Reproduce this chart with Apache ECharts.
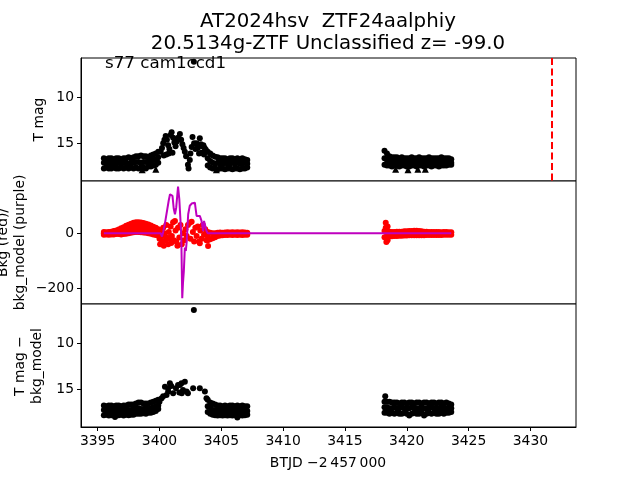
<!DOCTYPE html>
<html>
<head>
<meta charset="utf-8">
<script src="https://cdn.jsdelivr.net/npm/echarts@6/dist/echarts.min.js"></script>
<style>html,body{margin:0;padding:0;background:#fff}#c{width:640px;height:480px}</style>
</head>
<body>
<div id="c"></div>
<script>
// ---------- data ----------
const xTicks = [3395, 3400, 3405, 3410, 3415, 3420, 3425, 3430];
const magTicks = [10, 15];
const bkgTicks = [-200, 0];
const peakLineT = 3431.75;

// time columns
const seg1T = [3395.5,3395.7,3395.9,3396.1,3396.3,3396.5,3396.7,3396.9,3397.1,3397.3,3397.5,3397.7,3397.9,3398.1,3398.3,3398.5,3398.7,3398.9,3399.1,3399.3,3399.5,3399.7,3399.9];
const seg1bT = [3403.9,3404.1,3404.3,3404.5,3404.7,3404.9,3405.1,3405.3,3405.5,3405.7,3405.9,3406.1,3406.3,3406.5,3406.7,3406.9,3407.1];
const seg2T = [3418.2,3418.4,3418.6,3418.8,3419.0,3419.2,3419.4,3419.6,3419.8,3420.0,3420.2,3420.4,3420.6,3420.8,3421.0,3421.2,3421.4,3421.6,3421.8,3422.0,3422.2,3422.4,3422.6,3422.8,3423.0,3423.2,3423.4,3423.6];

// panel 1: T mag
const tmagSeg1Up  = [16.6,16.7,16.6,16.6,16.7,16.6,16.6,16.7,16.6,16.6,16.5,16.6,16.5,16.4,16.4,16.3,16.4,16.4,16.5,16.3,16.2,16.1,15.9];
const tmagSeg1Mid = [17.1,17.2,17.1,17.2,17.1,17.2,17.1,17.2,17.1,17.1,17.2,17.1,17.1,17.0,17.0,17.1,17.0,17.0,17.0,16.9,16.8,16.7,16.5];
const tmagSeg1Low = [17.7,17.6,17.7,17.7,17.6,17.7,17.7,17.6,17.7,17.6,17.7,17.6,17.7,17.6,17.7,17.6,17.6,17.7,17.5,17.5,17.4,17.3,17.1];
const tmagPeak = [[3400.1,15.9],[3400.2,15.5],[3400.3,15.0],[3400.35,16.3],[3400.4,14.6],[3400.5,14.2],[3400.55,16.2],[3400.6,14.6],[3400.7,15.2],[3400.75,16.1],[3400.8,15.6],[3400.9,14.1],[3400.98,13.8],[3401.05,16.0],[3401.1,14.4],[3401.2,14.9],[3401.3,15.3],[3401.4,14.8],[3401.5,14.4],[3401.65,14.0],[3401.75,14.6],[3401.85,15.1],[3401.95,15.5],[3402.05,15.9],[3402.15,16.4],[3402.3,17.3],[3402.35,17.7],[3402.45,16.8],[3402.5,16.1],[3402.6,15.4],[3402.67,14.3],[3402.8,15.0],[3402.9,15.6],[3403.0,15.0],[3403.1,15.5],[3403.26,14.45],[3403.35,15.1],[3403.45,15.3],[3403.55,15.2],[3403.65,15.5],[3403.75,15.7],[3403.2,16.1],[3403.4,16.0],[3403.6,16.2],[3402.78,6.2]];
const tmagSeg1bUp  = [15.9,16.1,16.3,16.45,16.5,16.6,16.6,16.6,16.7,16.6,16.6,16.7,16.6,16.7,16.6,16.7,16.8];
const tmagSeg1bMid = [16.6,16.9,17.1,17.2,17.1,17.2,17.2,17.1,17.2,17.2,17.1,17.2,17.1,17.2,17.2,17.1,17.2];
const tmagSeg1bLow = [17.4,17.6,17.7,17.7,17.8,17.7,17.7,17.8,17.7,17.7,17.8,17.7,17.7,17.8,17.7,17.7,17.6];
const tmagSeg2Up  = [15.8,16.1,16.4,16.5,16.5,16.5,16.6,16.5,16.6,16.6,16.6,16.5,16.6,16.6,16.5,16.6,16.6,16.6,16.5,16.6,16.6,16.6,16.6,16.5,16.6,16.6,16.6,16.7];
const tmagSeg2Mid = [16.6,16.8,17.0,17.0,17.0,17.1,17.0,17.0,17.1,17.0,17.0,17.1,17.0,17.0,17.1,17.0,17.0,17.1,17.0,17.0,17.0,17.1,17.0,17.0,17.1,17.0,17.0,17.1];
const tmagSeg2Low = [17.3,17.4,17.4,17.5,17.4,17.4,17.5,17.4,17.4,17.5,17.5,17.4,17.4,17.5,17.4,17.4,17.5,17.4,17.4,17.5,17.4,17.4,17.5,17.4,17.4,17.4,17.3,17.3];
const tmagLimits = [[3398.6,17.85],[3399.7,17.8],[3404.6,17.85],[3419.1,17.8],[3420.1,17.85],[3420.9,17.8],[3421.5,17.8]];

// panel 2: background (red) and background model (purple)
const bkgSeg1Up  = [5,4,5,6,8,10,14,18,22,27,31,35,38,40,40,39,37,35,32,28,24,20,15];
const bkgSeg1Mid = [0,0,1,2,3,4,6,8,10,12,15,18,20,22,22,21,20,18,16,14,12,10,6];
const bkgSeg1Low = [-5,-4,-5,-4,-4,-3,-3,-4,-3,-2,0,2,4,5,5,4,3,2,0,-2,-4,-6,-8];
const bkgPeak = [[3400.0,-20],[3400.05,-40],[3400.1,10],[3400.2,-30],[3400.25,-10],[3400.3,20],[3400.35,-45],[3400.4,0],[3400.5,-25],[3400.55,30],[3400.6,-15],[3400.7,-40],[3400.75,5],[3400.8,-20],[3400.9,25],[3400.95,-35],[3401.0,-10],[3401.1,40],[3401.15,-25],[3401.25,45],[3401.3,10],[3401.35,-30],[3401.45,-45],[3401.5,20],[3401.6,-15],[3401.7,30],[3401.8,-40],[3401.9,0],[3402.0,-25],[3402.1,15],[3402.2,-10],[3402.3,30],[3402.45,38],[3402.5,-20],[3402.6,42],[3402.7,5],[3402.8,-30],[3402.9,20],[3403.0,-10],[3403.1,25],[3403.2,-30],[3403.26,-36],[3403.3,10],[3403.4,-20],[3403.5,30],[3403.6,-5],[3403.7,15],[3403.8,-25],[3403.93,-46],[3403.9,-10]];
const bkgSeg1bUp  = [5,2,0,0,2,3,2,3,4,3,4,3,4,3,4,3,2];
const bkgSeg1bLow = [-25,-22,-18,-14,-10,-8,-7,-6,-6,-5,-6,-5,-6,-5,-6,-5,-5];
const bkgSeg2Spread = [[3418.3,38],[3418.3,20],[3418.35,5],[3418.3,-15],[3418.35,-32],[3418.45,-25],[3418.45,25]];
const bkgSeg2Up  = [8,8,6,5,5,6,6,6,7,7,8,8,9,9,8,7,6,6,5,5,5,5,5,4,5,5,4,4];
const bkgSeg2Low = [-14,-12,-12,-11,-10,-10,-9,-9,-8,-8,-7,-7,-7,-7,-7,-7,-7,-6,-6,-6,-6,-6,-6,-6,-5,-5,-5,-5];
const modelT = [3395.5,3400.1,3400.2,3400.3,3400.44,3400.6,3400.75,3400.85,3400.95,3401.05,3401.15,3401.25,3401.35,3401.5,3401.6,3401.68,3401.76,3401.84,3401.9,3401.97,3402.05,3402.13,3402.2,3402.32,3402.45,3402.6,3402.86,3402.95,3403.0,3403.26,3403.4,3403.53,3403.6,3403.7,3403.8,3403.9,3407.1,3418.3,3418.4,3418.5,3423.6];
const modelV = [0,0,-12,5,36,40,120,142,138,136,90,69,93,170,125,60,-5,-236,-180,-137,-52,-64,-30,69,100,108,111,80,63,63,45,8,45,40,8,0,0,0,5,0,0];

// panel 3: T mag - bkg_model
const diffSeg1Up  = [16.7,16.8,16.7,16.7,16.8,16.7,16.7,16.8,16.7,16.7,16.6,16.6,16.6,16.5,16.4,16.4,16.5,16.5,16.5,16.4,16.3,16.2,16.1];
const diffSeg1Mid = [17.2,17.3,17.2,17.3,17.2,17.3,17.2,17.3,17.2,17.2,17.2,17.2,17.1,17.1,17.0,17.1,17.1,17.0,17.1,17.0,16.9,16.8,16.7];
const diffSeg1Low = [17.75,17.7,17.8,17.75,17.7,17.8,17.75,17.7,17.8,17.7,17.75,17.7,17.7,17.6,17.6,17.6,17.55,17.6,17.5,17.5,17.4,17.3,17.1];
const diffPeak = [[3400.0,16.3],[3400.17,15.93],[3400.3,15.7],[3400.44,14.68],[3400.57,15.58],[3400.7,14.86],[3400.7,15.2],[3400.84,14.32],[3400.95,14.6],[3401.1,15.4],[3401.33,14.86],[3401.5,14.5],[3401.65,14.5],[3401.6,15.3],[3401.78,14.3],[3401.8,15.4],[3401.9,15.04],[3402.05,14.14],[3402.19,15.2],[3402.3,15.4],[3402.72,14.85],[3403.26,14.85],[3403.67,15.2],[3403.8,15.93],[3402.78,6.4],[3396.4,17.95],[3406.3,18.0]];
const diffSeg1bUp  = [16.1,16.4,16.5,16.6,16.7,16.7,16.8,16.7,16.8,16.7,16.7,16.8,16.7,16.8,16.7,16.8,16.8];
const diffSeg1bMid = [16.8,16.9,17.2,17.2,17.3,17.2,17.3,17.2,17.3,17.2,17.3,17.2,17.3,17.2,17.3,17.2,17.3];
const diffSeg1bLow = [17.4,17.6,17.7,17.75,17.8,17.75,17.8,17.75,17.8,17.75,17.8,17.75,17.8,17.75,17.8,17.75,17.7];
const diffSeg2Up  = [16.3,16.3,16.3,16.4,16.4,16.4,16.5,16.4,16.4,16.5,16.4,16.4,16.5,16.4,16.4,16.5,16.4,16.4,16.5,16.4,16.4,16.5,16.4,16.4,16.5,16.4,16.5,16.6];
const diffSeg2Mid = [16.9,16.9,17.0,17.0,16.9,17.0,17.0,16.9,17.0,17.0,17.0,16.9,17.0,17.0,17.0,16.9,17.0,17.0,17.0,16.9,17.0,17.0,17.0,16.9,17.0,17.0,17.0,17.0];
const diffSeg2Low = [17.5,17.5,17.6,17.5,17.6,17.5,17.6,17.6,17.5,17.6,17.8,17.6,17.5,17.6,17.6,17.5,17.8,17.6,17.5,17.6,17.5,17.6,17.6,17.5,17.6,17.5,17.5,17.4];
const diffExtra = [[3418.26,15.7]];

// ---------- build ----------
function columns(ts, ...rows) {
  const out = [];
  ts.forEach((t, i) => rows.forEach(r => out.push([t, r[i]])));
  return out;
}
const p1Pts = [].concat(
  columns(seg1T, tmagSeg1Up, tmagSeg1Mid, tmagSeg1Low), tmagPeak,
  columns(seg1bT, tmagSeg1bUp, tmagSeg1bMid, tmagSeg1bLow),
  columns(seg2T, tmagSeg2Up, tmagSeg2Mid, tmagSeg2Low));
const p2Pts = [].concat(
  columns(seg1T, bkgSeg1Up, bkgSeg1Mid, bkgSeg1Low), bkgPeak,
  columns(seg1bT, bkgSeg1bUp, bkgSeg1bLow), bkgSeg2Spread,
  columns(seg2T, bkgSeg2Up, bkgSeg2Low));
const p3Pts = [].concat(
  columns(seg1T, diffSeg1Up, diffSeg1Mid, diffSeg1Low), diffPeak,
  columns(seg1bT, diffSeg1bUp, diffSeg1bMid, diffSeg1bLow),
  columns(seg2T, diffSeg2Up, diffSeg2Mid, diffSeg2Low), diffExtra);
const modelPts = modelT.map((t, i) => [t, modelV[i]]);

const FONT = 'DejaVu Sans';
const xRange = [3393.65, 3433.69];
const grids = [
  {left: 81, top: 58, width: 495, height: 123},
  {left: 81, top: 181, width: 495, height: 123},
  {left: 81, top: 304, width: 495, height: 123}
].map(g => Object.assign(g, {show: true, borderColor: '#000', borderWidth: 1, backgroundColor: '#fff'}));

const fmt = v => (v < 0 ? '\u2212' + Math.abs(v) : String(v));

function xAx(i, showTicks) {
  return {
    type: 'value', gridIndex: i, min: xRange[0], max: xRange[1],
    axisLine: {show: showTicks, onZero: false, lineStyle: {color: '#000', width: 1}},
    axisTick: {show: showTicks, customValues: xTicks, length: 4, lineStyle: {color: '#000'}},
    axisLabel: {show: showTicks, customValues: xTicks, margin: 7, color: '#000', fontFamily: FONT, fontSize: 13.9,
      formatter: fmt},
    splitLine: {show: false}
  };
}
function yAx(i, min, max, ticks, inverse) {
  return {
    type: 'value', gridIndex: i, min: min, max: max, inverse: inverse,
    axisLine: {show: true, onZero: false, lineStyle: {color: '#000', width: 1}},
    axisTick: {show: true, customValues: ticks, length: 4, lineStyle: {color: '#000'}},
    axisLabel: {show: true, customValues: ticks, margin: 7, color: '#000', fontFamily: FONT, fontSize: 13.9,
      formatter: fmt},
    splitLine: {show: false}
  };
}

const option = {
  animation: false,
  backgroundColor: '#fff',
  grid: grids,
  xAxis: [xAx(0, false), xAx(1, false), xAx(2, true)],
  yAxis: [yAx(0, 5.79, 19.06, magTicks, true), yAx(1, -257, 190, bkgTicks, false), yAx(2, 5.76, 19.03, magTicks, true)],
  series: [
    {type: 'scatter', xAxisIndex: 0, yAxisIndex: 0, data: p1Pts, symbol: 'circle', symbolSize: 6,
      itemStyle: {color: '#000', opacity: 1}, silent: true,
      markLine: {silent: true, symbol: 'none', label: {show: false},
        lineStyle: {color: '#ff0000', type: [7, 3.5], width: 2}, data: [{xAxis: peakLineT}]}},
    {type: 'scatter', xAxisIndex: 0, yAxisIndex: 0, data: tmagLimits, symbol: 'triangle', symbolSize: 7,
      itemStyle: {color: '#000', opacity: 1}, silent: true},
    {type: 'scatter', xAxisIndex: 1, yAxisIndex: 1, data: p2Pts, symbol: 'circle', symbolSize: 6,
      itemStyle: {color: '#ff0000', opacity: 1}, silent: true},
    {type: 'line', xAxisIndex: 1, yAxisIndex: 1, data: modelPts, showSymbol: false, symbol: 'none',
      lineStyle: {color: '#bf00bf', width: 2}, silent: true, z: 5},
    {type: 'scatter', xAxisIndex: 2, yAxisIndex: 2, data: p3Pts, symbol: 'circle', symbolSize: 6,
      itemStyle: {color: '#000', opacity: 1}, silent: true}
  ],
  graphic: [
    {type: 'text', x: 328, y: 33, style: {text: 'AT2024hsv  ZTF24aalphiy\n20.5134g-ZTF Unclassified z= -99.0',
      fill: '#000', font: '19.8px "DejaVu Sans"', align: 'center', verticalAlign: 'middle', lineHeight: 22}},
    {type: 'text', x: 105, y: 64, style: {text: 's77 cam1ccd1', fill: '#000', font: '16.7px "DejaVu Sans"',
      align: 'left', verticalAlign: 'middle'}, z: 100},
    {type: 'text', x: 39, y: 119.5, rotation: Math.PI / 2, style: {text: 'T mag', fill: '#000',
      font: '13.9px "DejaVu Sans"', align: 'center', verticalAlign: 'middle'}},
    {type: 'text', x: 11.5, y: 242.5, rotation: Math.PI / 2, style: {text: 'Bkg (red)/\nbkg_model (purple)', fill: '#000',
      font: '13.9px "DejaVu Sans"', align: 'center', verticalAlign: 'middle', lineHeight: 17}},
    {type: 'text', x: 29, y: 366, rotation: Math.PI / 2, style: {text: 'T mag \u2212\nbkg_model', fill: '#000',
      font: '13.9px "DejaVu Sans"', align: 'center', verticalAlign: 'middle', lineHeight: 17}},
    {type: 'text', x: 328, y: 463, style: {text: 'BTJD \u22122\u2009457\u2009000', fill: '#000',
      font: '13.9px "DejaVu Sans"', align: 'center', verticalAlign: 'middle'}}
  ]
};
const chart = echarts.init(document.getElementById('c'), null, {renderer: 'canvas'});
chart.setOption(option);
</script>
</body>
</html>
